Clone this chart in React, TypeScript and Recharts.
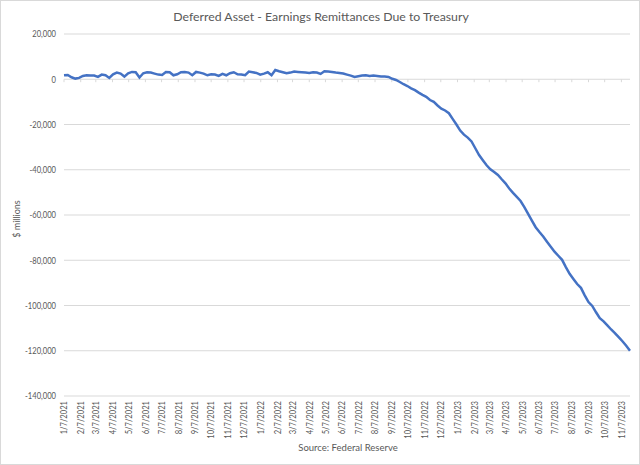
import { CartesianGrid, Line, LineChart, ReferenceLine, XAxis, YAxis } from 'recharts';

// weekly H.4.1 readings, $ millions, starting 1/7/2021
const firstWeek = '1/7/2021';
const deferredAsset = [
  1760, 1900, 880, 290, 590, 1470, 1760, 1620, 1620, 1030,
  2060, 1760, 590, 2200, 2940, 2500, 1180, 2650, 3230, 3090,
  740, 2650, 3090, 2940, 2500, 2060, 1900, 3230, 3090, 1760,
  2200, 3090, 3230, 2940, 1760, 3230, 2940, 2500, 1760, 2200,
  2060, 1470, 2350, 1760, 2650, 3090, 2200, 2060, 1760, 3380,
  3090, 2790, 2060, 2500, 3090, 1760, 4110, 3530, 3090, 2650,
  2940, 3380, 3230, 3090, 2940, 2790, 3090, 2940, 2350, 3530,
  3380, 3230, 2940, 2790, 2500, 2060, 1620, 1030, 1320, 1620,
  1760, 1470, 1620, 1470, 1180, 1180, 1030, 200, -300, -1200,
  -2200, -3000, -4000, -4800, -5900, -6900, -7800, -9200, -10000, -11600,
  -13000, -13800, -15000, -17500, -20000, -22700, -24500, -25800, -27500, -30500,
  -33500, -35800, -38000, -39800, -41000, -42300, -44200, -46000, -48300, -50200,
  -52000, -53800, -56500, -59500, -62500, -65400, -67500, -69500, -71800, -74000,
  -76200, -78000, -79800, -83000, -86000, -88300, -90500, -92200, -95500, -98500,
  -100200, -103000, -105600, -107000, -108800, -110600, -112200, -114000, -115800, -117800,
  -120000,
];

const monthLabels = [
  '1/7/2021', '2/7/2021', '3/7/2021', '4/7/2021', '5/7/2021', '6/7/2021',
  '7/7/2021', '8/7/2021', '9/7/2021', '10/7/2021', '11/7/2021', '12/7/2021',
  '1/7/2022', '2/7/2022', '3/7/2022', '4/7/2022', '5/7/2022', '6/7/2022',
  '7/7/2022', '8/7/2022', '9/7/2022', '10/7/2022', '11/7/2022', '12/7/2022',
  '1/7/2023', '2/7/2023', '3/7/2023', '4/7/2023', '5/7/2023', '6/7/2023',
  '7/7/2023', '8/7/2023', '9/7/2023', '10/7/2023', '11/7/2023',
];

const yTicks = [20000, 0, -20000, -40000, -60000, -80000, -100000, -120000, -140000];

const DAY = 86400000;
const WEEK = 7 * DAY;

function parseDate(s: string) {
  const [m, d, y] = s.split('/').map(Number);
  return Date.UTC(y, m - 1, d);
}

function fmtDate(t: number) {
  const d = new Date(t);
  return `${d.getUTCMonth() + 1}/${d.getUTCDate()}/${d.getUTCFullYear()}`;
}

const start = parseDate(firstWeek);
const chartData = deferredAsset.map((v, i) => ({ t: start + i * WEEK, value: v }));
const monthTicks = monthLabels.map(parseDate);

const FONT = 'Lato, "Open Sans", sans-serif';
const GREY = '#595959';
// Lato is wider than the Calibri in the original, so squeeze tick text a bit
const SQUEEZE = 0.8;

function DateTick(props: any) {
  const { x, y, payload } = props;
  return (
    <text
      x={0}
      y={0}
      transform={`translate(${x} ${y}) rotate(-90) scale(${SQUEEZE} 1)`}
      textAnchor="end"
      dy="0.35em"
      fontSize={9.5}
      fontFamily={FONT}
      fill={GREY}
    >
      {fmtDate(payload.value)}
    </text>
  );
}

function ValueTick(props: any) {
  const { x, y, payload } = props;
  return (
    <text
      x={0}
      y={0}
      transform={`translate(${x} ${y}) scale(${SQUEEZE} 1)`}
      textAnchor="end"
      dy="0.35em"
      fontSize={9.5}
      fontFamily={FONT}
      fill={GREY}
    >
      {Number(payload.value).toLocaleString('en-US')}
    </text>
  );
}

export default function App() {
  return (
    <div
      style={{
        position: 'absolute',
        left: 0,
        top: 0,
        width: 640,
        height: 465,
        background: '#fff',
        boxSizing: 'border-box',
        border: '1px solid #d9d9d9',
        fontFamily: FONT,
      }}
    >
      <div
        style={{
          position: 'absolute',
          top: 8,
          left: 0,
          width: 640,
          textAlign: 'center',
          fontSize: 12.3,
          color: GREY,
        }}
      >
        Deferred Asset - Earnings Remittances Due to Treasury
      </div>
      <div
        style={{
          position: 'absolute',
          left: 8,
          top: 218,
          transform: 'translate(-50%, -50%) rotate(-90deg)',
          transformOrigin: 'center',
          marginLeft: 7,
          fontSize: 9,
          color: GREY,
          whiteSpace: 'nowrap',
        }}
      >
        $ millions
      </div>
      <div
        style={{
          position: 'absolute',
          top: 441,
          left: 64,
          width: 566,
          textAlign: 'center',
          fontSize: 9.5,
          color: GREY,
        }}
      >
        Source: Federal Reserve
      </div>
      <div style={{ position: 'absolute', left: -1, top: -1 }}>
        <LineChart
          width={640}
          height={465}
          data={chartData}
          margin={{ top: 34, right: 10, left: 0, bottom: 0 }}
        >
          <CartesianGrid vertical={false} stroke="#d9d9d9" />
          <XAxis
            dataKey="t"
            type="number"
            scale="linear"
            domain={[chartData[0].t, chartData[chartData.length - 1].t]}
            ticks={monthTicks}
            interval={0}
            height={69}
            axisLine={false}
            tickLine={false}
            tickSize={0}
            tickMargin={5}
            tick={<DateTick />}
          />
          <YAxis
            type="number"
            domain={[-140000, 20000]}
            ticks={yTicks}
            interval={0}
            width={64}
            axisLine={false}
            tickLine={false}
            tickSize={0}
            tickMargin={8}
            tick={<ValueTick />}
          />
          {monthTicks.map((t) => (
            <ReferenceLine
              key={t}
              segment={[
                { x: t, y: 0 },
                { x: t, y: -1300 },
              ]}
              stroke="#d9d9d9"
              strokeWidth={1}
            />
          ))}
          <Line
            type="linear"
            dataKey="value"
            stroke="#4472C4"
            strokeWidth={2.5}
            dot={false}
            isAnimationActive={false}
          />
        </LineChart>
      </div>
    </div>
  );
}
